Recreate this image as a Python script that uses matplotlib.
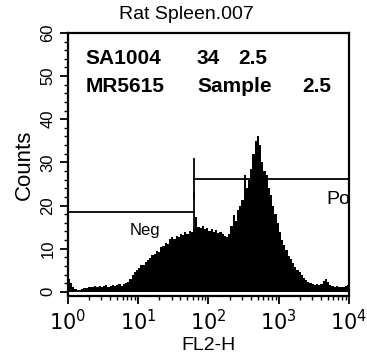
import matplotlib
matplotlib.use("Agg")
import matplotlib.pyplot as plt
import matplotlib.ticker as mticker
import numpy as np

plt.rcParams['font.family'] = ['Liberation Sans', 'DejaVu Sans']

# FL2-H histogram, 32 channels per decade over 10^0 .. 10^4
channels_per_decade = 32
counts = [
    # decade 0
    3.0, 2.0, 1.0, 0.6, 0.4, 0.5, 0.7, 0.9, 0.8, 1.1, 1.2, 1.0, 1.3, 1.2, 1.4, 1.1,
    1.3, 1.5, 1.2, 1.4, 1.6, 1.3, 1.5, 1.7, 1.4, 1.8, 2.0, 2.3, 2.9, 3.8, 4.6, 5.0,
    # decade 1
    5.6, 6.3, 6.1, 7.0, 7.4, 7.9, 8.5, 8.8, 9.5, 9.2, 10.3, 10.6, 11.3, 11.0, 12.2, 12.6,
    12.3, 13.0, 12.8, 13.4, 13.1, 13.8, 13.5, 14.2, 13.9, 14.6, 17.4, 15.1, 14.8, 15.3, 14.5, 14.9,
    # decade 2
    14.2, 14.6, 13.9, 14.3, 13.7, 13.9, 13.4, 13.0, 12.8, 13.5, 15.2, 17.8, 16.5, 18.9, 20.0, 21.2,
    27.0, 24.0, 26.0, 28.5, 32.0, 35.0, 36.2, 34.0, 30.0, 28.0, 27.0, 24.0, 22.5, 20.0, 18.0, 16.0,
    # decade 3
    13.8, 12.0, 10.8, 9.6, 8.3, 7.5, 6.6, 5.8, 5.1, 4.5, 3.9, 3.2, 2.8, 2.3, 2.0, 1.8,
    1.6, 1.7, 1.5, 1.8, 2.6, 3.0, 2.2, 1.5, 1.3, 1.2, 1.4, 1.1, 1.2, 1.0, 1.3, 1.6,
]

# marker gates (x range, level)
neg_gate = (1, 63, 18.5)
pos_gate = (63, 10000, 26.2)

title = "Rat Spleen.007"
# header rows, one list of words per row (laid out in columns)
info_rows = [["SA1004", "34", "2.5"], ["MR5615", "Sample", "2.5"]]
info_cols = [[0.064, 0.459, 0.605], [0.064, 0.459, 0.833]]
x_ticks = [1, 10, 100, 1000, 10000]
x_tick_labels = ["$10^{0}$", "$10^{1}$", "$10^{2}$", "$10^{3}$", "$10^{4}$"]
y_ticks = [0, 10, 20, 30, 40, 50, 60]

fig = plt.figure(figsize=(3.67, 3.62), dpi=100)
ax = fig.add_axes([0.185, 0.182, 0.766, 0.727])

edges = 10 ** (np.arange(len(counts) + 1) / channels_per_decade)
ax.stairs(counts, edges, fill=True, color="black", linewidth=0)

ax.set_xscale("log")
ax.set_xlim(1, 10000)
ax.set_ylim(-1, 60)

# gates
ax.plot([neg_gate[0], neg_gate[1]], [neg_gate[2], neg_gate[2]], color="black", lw=1.3)
ax.plot([neg_gate[1], neg_gate[1]], [neg_gate[2] - 4.5, neg_gate[2] + 4.5], color="black", lw=1.3)
ax.plot([pos_gate[0], pos_gate[1]], [pos_gate[2], pos_gate[2]], color="black", lw=1.3)
ax.plot([pos_gate[0], pos_gate[0]], [pos_gate[2] - 4.5, pos_gate[2] + 4.6], color="black", lw=1.3)
ax.text(12.6, 14.3, "Neg", fontsize=12, ha="center", va="center")
ax.text(4700, 21.3, "Po", fontsize=14, ha="left", va="center", clip_on=True)

for row, cols, yy in zip(info_rows, info_cols, [0.901, 0.798]):
    for word, xx in zip(row, cols):
        ax.text(xx, yy, word, transform=ax.transAxes, fontsize=15,
                ha="left", va="center", fontweight="bold")

fig.text(0.507, 0.959, title, fontsize=14, ha="center", va="center")
ax.set_xlabel("FL2-H", fontsize=14, labelpad=2)
ax.set_ylabel("Counts", fontsize=16, labelpad=4)

ax.set_xticks(x_ticks)
ax.set_xticklabels(x_tick_labels, fontsize=15)
ax.xaxis.set_minor_locator(mticker.LogLocator(base=10, subs=np.arange(2, 10)))
ax.xaxis.set_minor_formatter(mticker.NullFormatter())
ax.set_yticks(y_ticks)
ax.set_yticklabels([str(v) for v in y_ticks], fontsize=12, rotation=90, va="center")
ax.yaxis.set_minor_locator(mticker.MultipleLocator(2))

ax.tick_params(which="major", direction="out", length=6, width=1.3, pad=3)
ax.tick_params(which="minor", direction="out", length=3, width=1.0)
for spine in ax.spines.values():
    spine.set_linewidth(1.6)

fig.savefig("out.png", dpi=100)
